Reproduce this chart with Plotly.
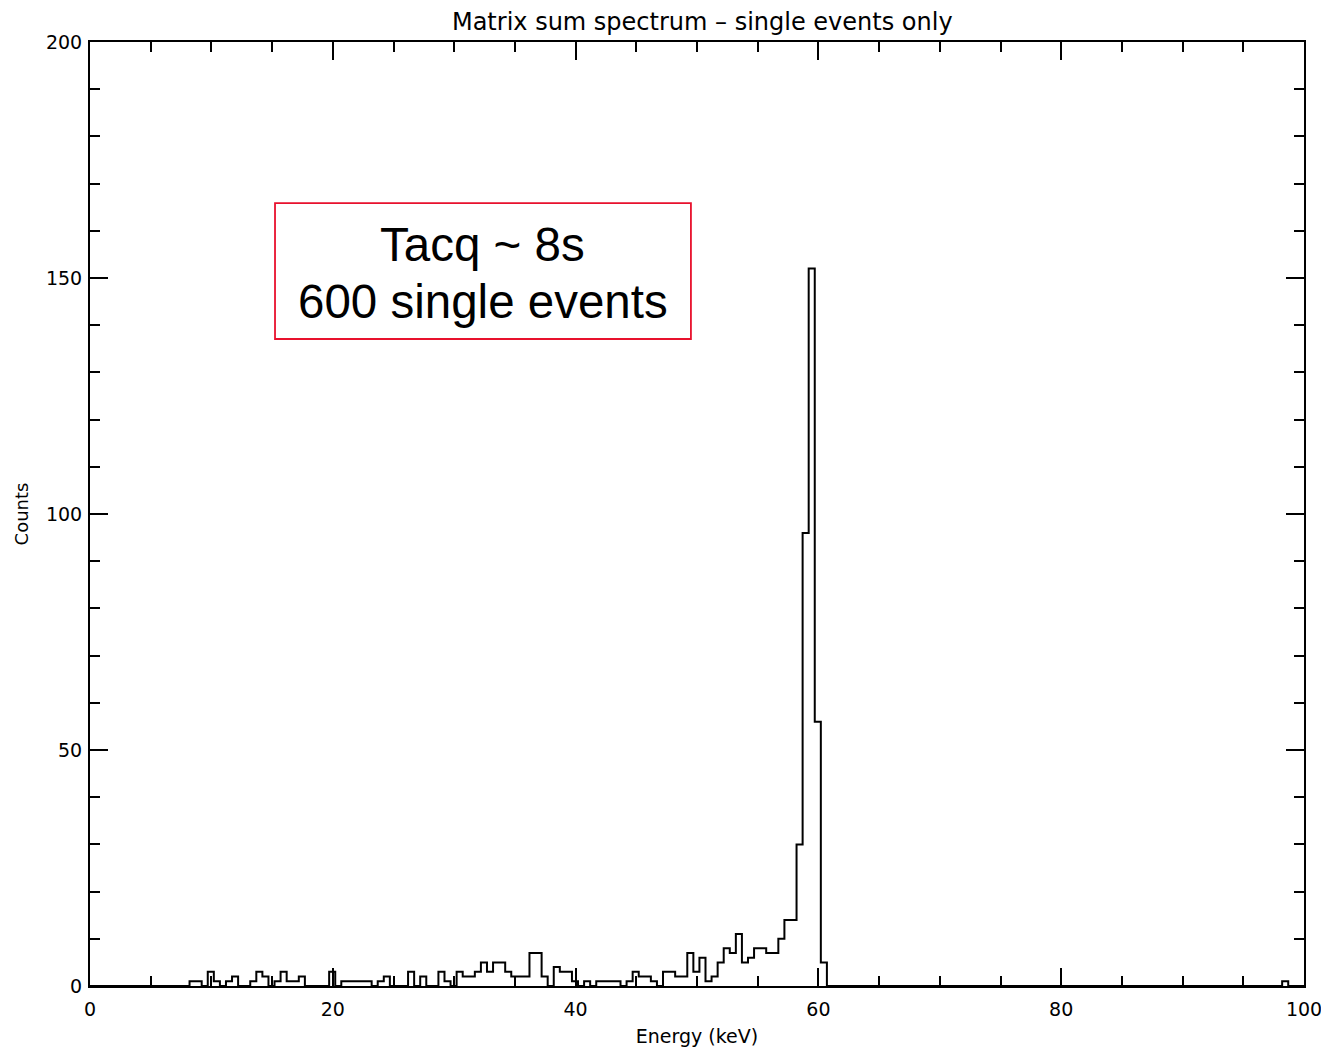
import plotly.graph_objects as go

# ---- data ----
bin_width = 0.5            # keV
first_edge = 8.2           # keV, left edge of first listed bin
counts = [1, 1, 0, 3, 1, 0, 1, 2, 0, 0,
          1, 3, 2, 0, 1, 3, 1, 1, 2, 0,
          0, 0, 0, 3, 0, 1, 1, 1, 1, 1,
          0, 1, 2, 0, 0, 0, 3, 0, 2, 0,
          0, 3, 1, 0, 3, 2, 2, 3, 5, 3,
          5, 5, 3, 2, 2, 2, 7, 7, 2, 0,
          4, 3, 3, 1, 0, 1, 0, 1, 1, 1,
          1, 0, 1, 3, 2, 2, 1, 0, 3, 3,
          2, 2, 7, 3, 6, 1, 2, 5, 8, 7,
          11, 5, 6, 8, 8, 7, 7, 10, 14, 14,
          30, 96, 152, 56, 5, 0]
late_edge = 98.2           # isolated bin near 98 keV
late_count = [1]

x_ticks = [0, 20, 40, 60, 80, 100]
y_ticks = [0, 50, 100, 150, 200]

# ---- build step outline ----
xs, ys = [0.0], [0]
for i, c in enumerate(counts):
    xs.append(first_edge + i * bin_width)
    ys.append(c)
end1 = first_edge + len(counts) * bin_width
xs.append(end1); ys.append(0)
xs.append(late_edge); ys.append(late_count[0])
xs.append(late_edge + bin_width); ys.append(0)
xs.append(100.0); ys.append(0)

fig = go.Figure()
fig.add_trace(go.Scatter(x=xs, y=ys, mode="lines", line_shape="hv",
                         line=dict(color="black", width=2), hoverinfo="skip"))

axis_font = dict(family="DejaVu Sans", size=19, color="black")
fig.update_layout(
    width=1321, height=1048,
    margin=dict(l=90, r=17, t=42, b=62, autoexpand=False),
    paper_bgcolor="white", plot_bgcolor="white",
    showlegend=False,
    title=dict(text="Matrix sum spectrum \u2013 single events only",
               x=(90 + 1304) / 2 / 1321 + 0.004, xanchor="center",
               y=1 - 22 / 1048, yanchor="middle",
               font=dict(family="DejaVu Sans", size=24, color="black")),
    xaxis=dict(range=[0, 100], tickvals=x_ticks, ticks="inside", ticklen=18,
               tickwidth=1.5, tickcolor="black", showline=True, linecolor="black",
               linewidth=2, mirror="ticks", showgrid=False, zeroline=False,
               automargin=False,
               tickfont=axis_font, ticklabelstandoff=5, ticklabeloverflow="allow",
               minor=dict(dtick=5, ticks="inside", ticklen=10, tickwidth=1.5,
                          tickcolor="black", showgrid=False),
               title=dict(text="Energy (keV)", font=axis_font, standoff=11)),
    yaxis=dict(range=[0, 200], tickvals=y_ticks, ticks="inside", ticklen=18,
               tickwidth=1.5, tickcolor="black", showline=True, linecolor="black",
               linewidth=2, mirror="ticks", showgrid=False, zeroline=False,
               automargin=False,
               tickfont=axis_font, ticklabelstandoff=2, ticklabeloverflow="allow",
               minor=dict(dtick=10, ticks="inside", ticklen=10, tickwidth=1.5,
                          tickcolor="black", showgrid=False),
               title=dict(text="Counts", font=dict(family="DejaVu Sans", size=18, color="black"),
                          standoff=13)),
)

# annotation box
fig.add_shape(type="rect", xref="paper", yref="paper",
              x0=0.1524, x1=0.495, y0=0.6854, y1=0.8294,
              line=dict(color="#e8112d", width=1.8), fillcolor="white")
for txt, yy in [("Tacq ~ 8s", 0.785), ("600 single events", 0.7246)]:
    fig.add_annotation(text=txt, xref="paper", yref="paper", x=0.3237, y=yy,
                       xanchor="center", yanchor="middle", showarrow=False,
                       font=dict(family="Liberation Sans", size=47.5, color="black"))

fig.write_html("out.html")
